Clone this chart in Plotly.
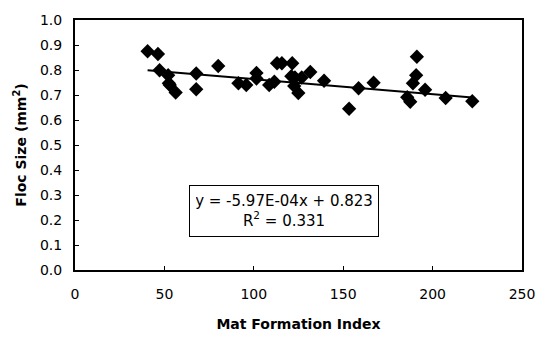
import plotly.graph_objects as go

mat_index = [40.6, 46.4, 47.3, 52.1, 52.5, 53.0, 56.3, 67.8, 67.8, 80.1, 91.4, 95.8,
             101.5, 101.5, 108.6, 111.5, 113.0, 115.7, 121.5, 121.0, 122.6, 124.9,
             123.0, 126.8, 131.6, 139.3, 153.3, 158.6, 167.0, 185.8, 187.5, 189.0,
             190.8, 191.2, 195.8, 207.3, 222.2]
floc_size = [0.875, 0.864, 0.799, 0.779, 0.747, 0.740, 0.710, 0.786, 0.723, 0.816, 0.747, 0.740,
             0.788, 0.766, 0.740, 0.753, 0.827, 0.827, 0.827, 0.775, 0.736, 0.708,
             0.770, 0.770, 0.792, 0.757, 0.645, 0.727, 0.749, 0.691, 0.673, 0.747,
             0.779, 0.853, 0.721, 0.688, 0.675]

slope = -5.97e-4
intercept = 0.823
r_squared = 0.331
fit_x = [min(mat_index), max(mat_index)]
fit_y = [slope * v + intercept for v in fit_x]

x_ticks = [0, 50, 100, 150, 200, 250]
y_ticks = [i / 10 for i in range(11)]
y_tick_labels = [f"{v:.1f}" for v in y_ticks]

font = "DejaVu Sans, Arial, sans-serif"

fig = go.Figure()
fig.add_trace(go.Scatter(x=fit_x, y=fit_y, mode="lines",
                         line=dict(color="black", width=2), showlegend=False))
fig.add_trace(go.Scatter(x=mat_index, y=floc_size, mode="markers",
                         marker=dict(symbol="diamond", size=11, color="black"),
                         showlegend=False))

fig.add_annotation(x=116.8, y=0.237, xref="x", yref="y",
                   text=f"y = {slope:.2E}x + {intercept}" + f"<br>R<sup>2</sup> = {r_squared}",
                   showarrow=False, bordercolor="black", borderwidth=1, borderpad=6,
                   bgcolor="white", width=176, align="center",
                   font=dict(family=font, size=15, color="black"))

fig.update_layout(
    width=547, height=342,
    margin=dict(l=75, r=16, t=15, b=72),
    paper_bgcolor="white", plot_bgcolor="white",
    font=dict(family=font, size=14, color="black"),
)
fig.update_xaxes(range=[0, 250], tickvals=x_ticks, showgrid=False, zeroline=False,
                 showline=True, linecolor="black", linewidth=2, mirror=True,
                 ticks="inside", ticklen=4, tickcolor="black", ticklabelstandoff=10,
                 title=dict(text="<b>Mat Formation Index</b>", standoff=18,
                            font=dict(size=14)))
fig.update_yaxes(range=[0, 1.0], tickvals=y_ticks, ticktext=y_tick_labels, showgrid=False,
                 zeroline=False, showline=True, linecolor="black", linewidth=2, mirror=True,
                 ticks="inside", ticklen=4, tickcolor="black", ticklabelstandoff=8,
                 title=dict(text="<b>Floc Size (mm<sup>2</sup>)</b>", standoff=10,
                            font=dict(size=14)))

fig.write_html("out.html")
